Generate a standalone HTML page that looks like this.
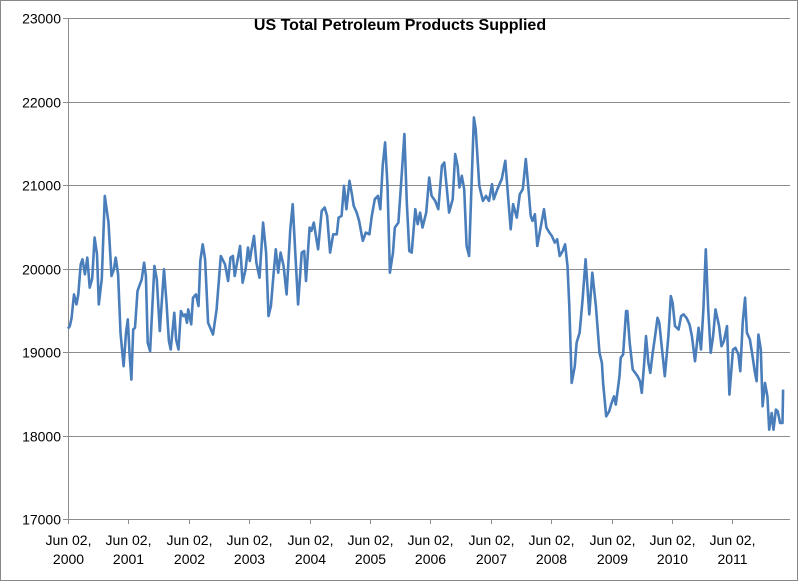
<!DOCTYPE html>
<html><head><meta charset="utf-8"><style>
body{margin:0;background:#fff;}
svg{display:block;font-family:"Liberation Sans",Arial,sans-serif;}
</style></head><body>
<svg width="798" height="581" viewBox="0 0 798 581">
<rect x="0.5" y="0.5" width="797" height="580" fill="#fff" stroke="#888"/>
<g id="grid"></g><g id="axes"></g><g id="series"></g>
<text x="400" y="30" text-anchor="middle" font-size="16" font-weight="bold" fill="#000">US Total Petroleum Products Supplied</text>
</svg>
<script>
const yTicks=[17000,18000,19000,20000,21000,22000,23000];
const xTickYears=[2000,2001,2002,2003,2004,2005,2006,2007,2008,2009,2010,2011];
const xTickLabel="Jun 02,";
const dates=[2000.42,2000.45,2000.48,2000.52,2000.56,2000.59,2000.63,2000.66,2000.70,2000.74,2000.78,2000.82,2000.86,2000.90,2000.93,2000.98,2001.03,2001.09,2001.14,2001.18,2001.21,2001.25,2001.29,2001.34,2001.38,2001.41,2001.44,2001.47,2001.50,2001.53,2001.57,2001.64,2001.68,2001.71,2001.74,2001.78,2001.85,2001.89,2001.94,2002.01,2002.05,2002.09,2002.12,2002.18,2002.21,2002.25,2002.29,2002.33,2002.36,2002.39,2002.41,2002.46,2002.49,2002.54,2002.58,2002.61,2002.65,2002.69,2002.74,2002.82,2002.88,2002.95,2003.02,2003.07,2003.11,2003.15,2003.18,2003.23,2003.27,2003.31,2003.36,2003.40,2003.43,2003.46,2003.50,2003.54,2003.59,2003.65,2003.70,2003.74,2003.78,2003.82,2003.86,2003.90,2003.94,2003.99,2004.04,2004.10,2004.14,2004.18,2004.23,2004.29,2004.33,2004.36,2004.42,2004.45,2004.49,2004.53,2004.56,2004.62,2004.67,2004.71,2004.76,2004.81,2004.87,2004.90,2004.95,2004.99,2005.03,2005.08,2005.12,2005.15,2005.20,2005.24,2005.30,2005.35,2005.41,2005.45,2005.50,2005.55,2005.59,2005.63,2005.67,2005.71,2005.75,2005.80,2005.83,2005.89,2005.94,2005.99,2006.03,2006.07,2006.11,2006.17,2006.21,2006.25,2006.29,2006.35,2006.40,2006.44,2006.50,2006.55,2006.61,2006.65,2006.73,2006.79,2006.83,2006.87,2006.90,2006.94,2006.98,2007.02,2007.06,2007.10,2007.14,2007.17,2007.23,2007.29,2007.34,2007.39,2007.44,2007.47,2007.53,2007.60,2007.66,2007.71,2007.75,2007.79,2007.85,2007.90,2007.95,2008.00,2008.04,2008.08,2008.11,2008.15,2008.19,2008.23,2008.30,2008.34,2008.39,2008.43,2008.48,2008.52,2008.56,2008.61,2008.65,2008.69,2008.72,2008.76,2008.81,2008.84,2008.89,2008.94,2008.99,2009.05,2009.10,2009.16,2009.22,2009.26,2009.28,2009.33,2009.38,2009.42,2009.46,2009.49,2009.55,2009.57,2009.61,2009.66,2009.68,2009.72,2009.77,2009.81,2009.85,2009.89,2009.92,2009.96,2009.99,2010.03,2010.06,2010.10,2010.14,2010.18,2010.21,2010.25,2010.30,2010.36,2010.40,2010.43,2010.47,2010.53,2010.57,2010.61,2010.66,2010.71,2010.75,2010.80,2010.86,2010.90,2010.94,2010.98,2011.02,2011.06,2011.10,2011.14,2011.20,2011.24,2011.28,2011.33,2011.37,2011.43,2011.47,2011.52,2011.55,2011.59,2011.63,2011.66,2011.71,2011.75,2011.79,2011.82,2011.85,2011.89,2011.92,2011.96,2012.00,2012.03,2012.07,2012.10,2012.14,2012.17,2012.21,2012.25,2012.26];
const supplied=[19280,19310,19410,19690,19570,19690,20050,20110,19930,20130,19770,19880,20370,20170,19570,19880,20870,20550,19910,19990,20130,19930,19230,18830,19230,19390,18970,18670,19270,19290,19730,19870,20070,19910,19110,19010,20030,19870,19250,19990,19590,19130,19030,19470,19150,19030,19490,19430,19450,19350,19510,19330,19650,19690,19550,20090,20290,20110,19350,19210,19510,20150,20050,19850,20130,20150,19910,20110,20270,19830,19990,20250,20090,20230,20390,20070,19890,20550,20190,19430,19550,19910,20230,19950,20190,20030,19690,20470,20770,20230,19570,20190,20210,19850,20490,20450,20550,20370,20230,20690,20730,20630,20190,20410,20410,20610,20630,20990,20710,21050,20890,20750,20670,20570,20330,20430,20410,20630,20830,20870,20710,21230,21510,20990,19950,20190,20490,20550,21070,21610,20790,20210,20190,20710,20530,20670,20490,20670,21090,20870,20810,20710,21230,21270,20670,20830,21370,21230,20970,21110,20950,20270,20150,20990,21810,21670,20990,20810,20870,20810,21010,20830,20950,21070,21290,20830,20470,20770,20610,20890,20950,21310,20990,20630,20570,20650,20270,20430,20710,20490,20430,20390,20310,20350,20150,20210,20290,20030,19550,18630,18830,19110,19230,19630,20110,19450,19950,19550,18990,18870,18630,18230,18290,18390,18470,18370,18710,18930,18970,19490,19490,19110,18790,18750,18710,18650,18510,18870,19190,18870,18750,18990,19190,19410,19350,19070,18710,19190,19670,19590,19310,19270,19430,19450,19410,19330,19190,18890,19290,19030,19510,20230,19510,18990,19190,19510,19310,19070,19130,19310,18490,19030,19050,18970,18770,19350,19650,19230,19150,18970,18770,18650,19210,19030,18350,18630,18470,18070,18270,18070,18310,18290,18150,18150,18550];

const NS="http://www.w3.org/2000/svg";
const X0=68,X1=790,Y0=519,Y1=18;
function xs(t){return X0+(t-2000.42)*60.4;}
function ys(v){return Y0-(v-17000)/6000*(Y0-Y1);}
function mk(tag,attrs,parent){const e=document.createElementNS(NS,tag);for(const k in attrs)e.setAttribute(k,attrs[k]);parent.appendChild(e);return e;}
const grid=document.getElementById('grid'),axes=document.getElementById('axes'),series=document.getElementById('series');
yTicks.forEach(v=>{
  const y=Math.round(ys(v))+0.5;
  if(v>17000){const g=mk('line',{x1:X0,x2:X1,y1:y,y2:y,stroke:'#8c8c8c','stroke-width':1},grid);
  
  }
  const tk=mk('line',{x1:X0-5,x2:X0,y1:y,y2:y,stroke:'#8c8c8c'},axes);
  
  
  const t=mk('text',{x:X0-7,y:y+5,'text-anchor':'end','font-size':14,fill:'#000'},axes);
  t.textContent=v;
  
  
});
const ax=mk('line',{x1:X0+0.5,x2:X0+0.5,y1:Y1,y2:Y0,stroke:'#8c8c8c'},axes);


const bx=mk('line',{x1:X0,x2:X1,y1:Y0+0.5,y2:Y0+0.5,stroke:'#8c8c8c'},axes);


xTickYears.forEach(yr=>{
  const x=Math.round(xs(yr+0.42))+0.5;
  const tk=mk('line',{x1:x,x2:x,y1:Y0,y2:Y0+5,stroke:'#8c8c8c'},axes);
  
  
  const t=mk('text',{x:x,y:545,'text-anchor':'middle','font-size':14,fill:'#000'},axes);
  t.textContent=xTickLabel;
  
  
  const t2=mk('text',{x:x,y:564,'text-anchor':'middle','font-size':14,fill:'#000'},axes);
  t2.textContent=yr;
  
  
});
const d=dates.map((t,i)=>(i?'L':'M')+xs(t).toFixed(1)+','+ys(supplied[i]).toFixed(1)).join('');
const p=mk('path',{d:d,fill:'none',stroke:'#4a7ebb','stroke-width':2.6,'stroke-linejoin':'round'},series);


</script>
</body></html>
